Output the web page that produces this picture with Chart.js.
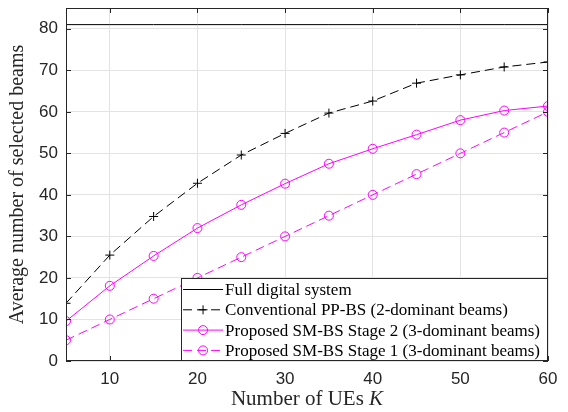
<!DOCTYPE html>
<html lang="en">
<head>
<meta charset="UTF-8">
<script src="https://cdn.jsdelivr.net/npm/chart.js"></script>
<title>Selected beams</title>
<style>
    html, body { margin: 0; padding: 0; background: #fff; }
    #wrap { width: 568px; height: 412px; }
</style>
</head>
<body>
<div id="wrap"><canvas id="grafico" width="568" height="412"></canvas></div>
<script>
    // dados
    var usuarios = [5, 10, 15, 20, 25, 30, 35, 40, 45, 50, 55, 60];
    var fullDigital = [81, 81, 81, 81, 81, 81, 81, 81, 81, 81, 81, 81];
    var convencional = [13.9, 25.5, 34.8, 42.8, 49.6, 54.8, 59.7, 62.6, 66.9, 68.9, 70.8, 72.0];
    var estagio2 = [9.6, 18.1, 25.3, 32.0, 37.6, 42.7, 47.5, 51.1, 54.5, 58.0, 60.3, 61.4];
    var estagio1 = [5, 10, 15, 20, 25, 30, 35, 40, 45, 50, 55, 60];
    var xTicks = [10, 20, 30, 40, 50, 60];
    var yTicks = [0, 10, 20, 30, 40, 50, 60, 70, 80];
    var nomes = [
        "Full digital system",
        "Conventional PP-BS (2-dominant beams)",
        "Proposed SM-BS Stage 2 (3-dominant beams)",
        "Proposed SM-BS Stage 1 (3-dominant beams)"
    ];

    var rosa = "#ff00ff";
    var eixoCor = "#262626";
    var serif = "'Liberation Serif', 'DejaVu Serif', serif";
    var sans = "'Liberation Sans', Arial, sans-serif";

    function pontos(ys) {
        return usuarios.map(function (x, i) { return { x: x, y: ys[i] }; });
    }

    // caixa, ticks internos, legenda e titulo do eixo x
    var estiloMatlab = {
        id: "estiloMatlab",
        afterDatasetsDraw: function (chart) {
            var ctx = chart.ctx;
            var a = chart.chartArea;
            var sx = chart.scales.x, sy = chart.scales.y;
            ctx.save();
            ctx.strokeStyle = eixoCor;
            ctx.lineWidth = 1;
            ctx.strokeRect(a.left + 0.5, a.top + 0.5, a.right - a.left - 1, a.bottom - a.top - 1);
            ctx.beginPath();
            xTicks.forEach(function (t) {
                var px = Math.round(sx.getPixelForValue(t)) + 0.5;
                ctx.moveTo(px, a.bottom); ctx.lineTo(px, a.bottom - 5);
                ctx.moveTo(px, a.top); ctx.lineTo(px, a.top + 5);
            });
            yTicks.forEach(function (t) {
                var py = Math.round(sy.getPixelForValue(t)) + 0.5;
                ctx.moveTo(a.left, py); ctx.lineTo(a.left + 5, py);
                ctx.moveTo(a.right, py); ctx.lineTo(a.right - 5, py);
            });
            ctx.stroke();

            // legenda
            ctx.font = "17px " + serif;
            var largura = 0;
            nomes.forEach(function (n) { largura = Math.max(largura, ctx.measureText(n).width); });
            var bx1 = a.right, by2 = a.bottom - 1;
            var bx0 = bx1 - largura - 52;
            var by0 = by2 - 82;
            ctx.fillStyle = "#fff";
            ctx.fillRect(bx0, by0, bx1 - bx0, by2 - by0);
            ctx.strokeStyle = eixoCor;
            ctx.strokeRect(Math.round(bx0) + 0.5, Math.round(by0) + 0.5, Math.round(bx1 - bx0) - 1, Math.round(by2 - by0));
            chart.data.datasets.forEach(function (ds, i) {
                var cy = by0 + 11.5 + i * 20.3;
                var lx0 = bx0 + 2, lx1 = bx0 + 42;
                ctx.save();
                ctx.strokeStyle = ds.borderColor;
                ctx.lineWidth = ds.borderWidth;
                ctx.setLineDash(ds.borderDash || []);
                ctx.beginPath();
                ctx.moveTo(lx0, cy); ctx.lineTo(lx1, cy);
                ctx.stroke();
                ctx.setLineDash([]);
                if (ds.pointRadius > 0) {
                    ctx.fillStyle = "rgba(0,0,0,0)";
                    Chart.helpers.drawPoint(ctx, {
                        pointStyle: ds.pointStyle,
                        radius: ds.pointRadius,
                        borderWidth: 1,
                        rotation: 0
                    }, (lx0 + lx1) / 2, cy);
                }
                ctx.restore();
                ctx.fillStyle = "#000";
                ctx.textBaseline = "middle";
                ctx.textAlign = "left";
                ctx.fillText(nomes[i], bx0 + 44, cy + 1);
            });

            // titulo do eixo x com K em italico
            ctx.fillStyle = "#262626";
            ctx.textBaseline = "middle";
            ctx.font = "21px " + serif;
            var parte1 = "Number of UEs ";
            var w1 = ctx.measureText(parte1).width;
            ctx.font = "italic 21px " + serif;
            var w2 = ctx.measureText("K").width;
            var cx = (a.left + a.right) / 2 - (w1 + w2) / 2;
            ctx.textAlign = "left";
            ctx.font = "21px " + serif;
            ctx.fillText(parte1, cx, 399);
            ctx.font = "italic 21px " + serif;
            ctx.fillText("K", cx + w1, 399);
            ctx.restore();
        }
    };

    var config = {
        type: "line",
        data: {
            datasets: [
                {
                    label: nomes[0],
                    data: pontos(fullDigital),
                    borderColor: "#000",
                    backgroundColor: "#000",
                    borderWidth: 1,
                    pointRadius: 0
                },
                {
                    label: nomes[1],
                    data: pontos(convencional),
                    borderColor: "#000",
                    backgroundColor: "#000",
                    borderWidth: 1,
                    borderDash: [9, 5],
                    pointStyle: "cross",
                    pointRadius: 4.5,
                    pointBorderWidth: 1
                },
                {
                    label: nomes[2],
                    data: pontos(estagio2),
                    borderColor: rosa,
                    backgroundColor: "rgba(0,0,0,0)",
                    borderWidth: 1,
                    pointStyle: "circle",
                    pointRadius: 4.5,
                    pointBorderWidth: 1
                },
                {
                    label: nomes[3],
                    data: pontos(estagio1),
                    borderColor: rosa,
                    backgroundColor: "rgba(0,0,0,0)",
                    borderWidth: 1,
                    borderDash: [9, 5],
                    pointStyle: "circle",
                    pointRadius: 4.5,
                    pointBorderWidth: 1
                }
            ]
        },
        options: {
            responsive: false,
            animation: false,
            devicePixelRatio: 1,
            layout: { padding: { top: 8, right: 20, left: 0, bottom: 0 } },
            plugins: {
                legend: { display: false },
                tooltip: { enabled: false }
            },
            scales: {
                x: {
                    type: "linear",
                    min: 5,
                    max: 60,
                    afterBuildTicks: function (s) { s.ticks = xTicks.map(function (v) { return { value: v }; }); },
                    afterFit: function (s) { s.height = 51; s.paddingLeft = 0; s.paddingRight = 0; },
                    grid: { color: "#e3e3e3", drawTicks: false },
                    border: { display: false },
                    ticks: { color: eixoCor, font: { family: sans, size: 17 }, padding: 8, maxRotation: 0 }
                },
                y: {
                    min: 0,
                    max: 85,
                    afterBuildTicks: function (s) { s.ticks = yTicks.map(function (v) { return { value: v }; }); },
                    afterFit: function (s) { s.width = 66; s.paddingTop = 0; s.paddingBottom = 0; },
                    grid: { color: "#e3e3e3", drawTicks: false },
                    border: { display: false },
                    ticks: { color: eixoCor, font: { family: sans, size: 17 }, padding: 8 },
                    title: {
                        display: true,
                        text: "Average number of selected beams",
                        color: "#262626",
                        font: { family: serif, size: 20 },
                        padding: { top: 6, bottom: 2 }
                    }
                }
            }
        },
        plugins: [estiloMatlab]
    };

    new Chart(document.getElementById("grafico"), config);
</script>
</body>
</html>
